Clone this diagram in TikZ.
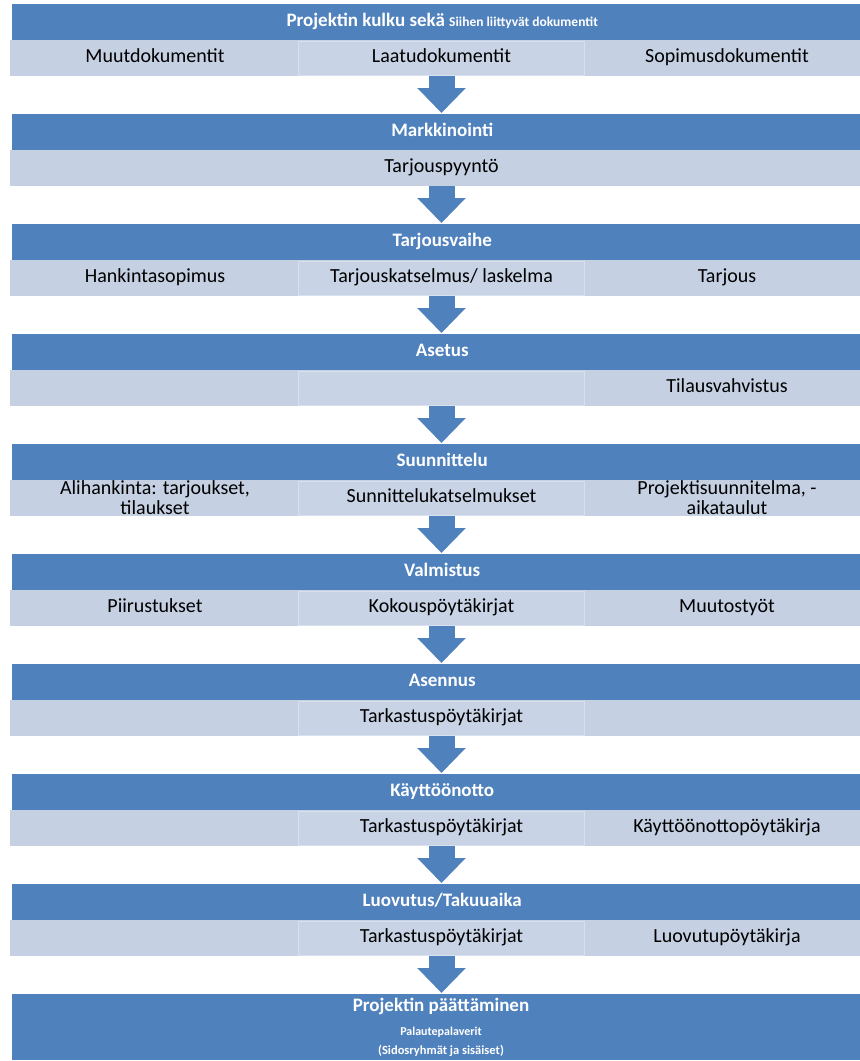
\documentclass[tikz,border=0pt]{standalone}
\usepackage{fontspec}
\setmainfont{Carlito}
\usetikzlibrary{positioning,arrows.meta}

\definecolor{stageblue}{HTML}{4F81BD}
\definecolor{rowblue}{HTML}{C5D0E3}
\definecolor{midblue}{HTML}{C8D3E6}
\definecolor{midedge}{HTML}{D9E0ED}

\begin{document}
\begin{tikzpicture}[
    x=1pt, y=-1pt,
    stage/.style={
        rectangle,
        fill=stageblue,
        text=white,
        minimum width=848pt,
        minimum height=36pt,
        inner sep=0pt,
        anchor=north west,
        text height=13pt,
        text depth=4pt,
        execute at begin node={\hskip12pt},
        font=\fontsize{19}{21}\selectfont\bfseries
    },
    docrow/.style={
        rectangle,
        fill=rowblue,
        minimum width=850pt,
        minimum height=36pt,
        inner sep=0pt,
        anchor=north west
    },
    midcell/.style={
        rectangle,
        fill=midblue,
        draw=midedge,
        line width=1pt,
        minimum width=286pt,
        minimum height=34pt,
        inner sep=0pt,
        text height=14pt,
        text depth=5pt,
        font=\fontsize{20}{20}\selectfont
    },
    doc/.style={
        inner sep=0pt,
        text height=14pt,
        text depth=5pt,
        font=\fontsize{20}{20}\selectfont
    },
    doctwo/.style={
        inner sep=0pt,
        align=center,
        font=\fontsize{20}{20}\selectfont
    },
    flow/.style={draw=stageblue, line width=26pt, -{Triangle[width=47pt,length=25pt]}, shorten >=1pt}
]
\useasboundingbox (0,0) rectangle (860,1061);

% Projektin kulku
\node[stage] (head1) at (12,4) {Projektin kulku sekä {\fontsize{13.5}{14}\selectfont Siihen liittyvät dokumentit}};
\node[docrow] (row1) at (10,40) {};
\node[midcell] (mid1) at (441.5,58) {Laatudokumentit};
\node[doc] (left1) at (155,58) {Muutdokumentit};
\node[doc] (right1) at (727,58) {Sopimusdokumentit};

% Markkinointi
\node[stage] (head2) at (12,114) {Markkinointi};
\node[docrow] (row2) at (10,150) {};
\node[midcell, draw=none, fill=none] (mid2) at (441.5,168) {Tarjouspyyntö};

% Tarjousvaihe
\node[stage] (head3) at (12,224) {Tarjousvaihe};
\node[docrow] (row3) at (10,260) {};
\node[midcell] (mid3) at (441.5,278) {Tarjouskatselmus/ laskelma};
\node[doc] (left3) at (155,278) {Hankintasopimus};
\node[doc] (right3) at (727,278) {Tarjous};

% Asetus
\node[stage] (head4) at (12,334) {Asetus};
\node[docrow] (row4) at (10,370) {};
\node[midcell] (mid4) at (441.5,388) {};
\node[doc] (right4) at (727,388) {Tilausvahvistus};

% Suunnittelu
\node[stage] (head5) at (12,444) {Suunnittelu};
\node[docrow] (row5) at (10,480) {};
\node[midcell] (mid5) at (441.5,498) {Sunnittelukatselmukset};
\node[doctwo] (left5) at (155,498) {Alihankinta: tarjoukset,\\tilaukset};
\node[doctwo] (right5) at (727,498) {Projektisuunnitelma, -\\aikataulut};

% Valmistus
\node[stage] (head6) at (12,554) {Valmistus};
\node[docrow] (row6) at (10,590) {};
\node[midcell] (mid6) at (441.5,608) {Kokouspöytäkirjat};
\node[doc] (left6) at (155,608) {Piirustukset};
\node[doc] (right6) at (727,608) {Muutostyöt};

% Asennus
\node[stage] (head7) at (12,664) {Asennus};
\node[docrow] (row7) at (10,700) {};
\node[midcell] (mid7) at (441.5,718) {Tarkastuspöytäkirjat};

% Kayttoonotto
\node[stage] (head8) at (12,774) {Käyttöönotto};
\node[docrow] (row8) at (10,810) {};
\node[midcell] (mid8) at (441.5,828) {Tarkastuspöytäkirjat};
\node[doc] (right8) at (727,828) {Käyttöönottopöytäkirja};

% Luovutus
\node[stage] (head9) at (12,884) {Luovutus/Takuuaika};
\node[docrow] (row9) at (10,920) {};
\node[midcell] (mid9) at (441.5,938) {Tarkastuspöytäkirjat};
\node[doc] (right9) at (727,938) {Luovutupöytäkirja};

% Projektin paattaminen
\node[stage, minimum height=66pt] (head10) at (12,994) {};
\node[text=white, inner sep=0pt, font=\fontsize{19}{21}\selectfont\bfseries] (end1) at (441,1006) {Projektin päättäminen};
\node[text=white, inner sep=0pt, font=\fontsize{12}{14}\selectfont\bfseries] (end2) at (441,1032) {Palautepalaverit};
\node[text=white, inner sep=0pt, font=\fontsize{12.5}{14}\selectfont\bfseries] (end3) at (441,1051) {(Sidosryhmät ja sisäiset)};

% arrows
\draw[flow] (mid1.south) -- (mid1.south |- head2.north);
\draw[flow] (mid2.south) -- (mid2.south |- head3.north);
\draw[flow] (mid3.south) -- (mid3.south |- head4.north);
\draw[flow] (mid4.south) -- (mid4.south |- head5.north);
\draw[flow] (mid5.south) -- (mid5.south |- head6.north);
\draw[flow] (mid6.south) -- (mid6.south |- head7.north);
\draw[flow] (mid7.south) -- (mid7.south |- head8.north);
\draw[flow] (mid8.south) -- (mid8.south |- head9.north);
\draw[flow] (mid9.south) -- (mid9.south |- head10.north);

\end{tikzpicture}
\end{document}
